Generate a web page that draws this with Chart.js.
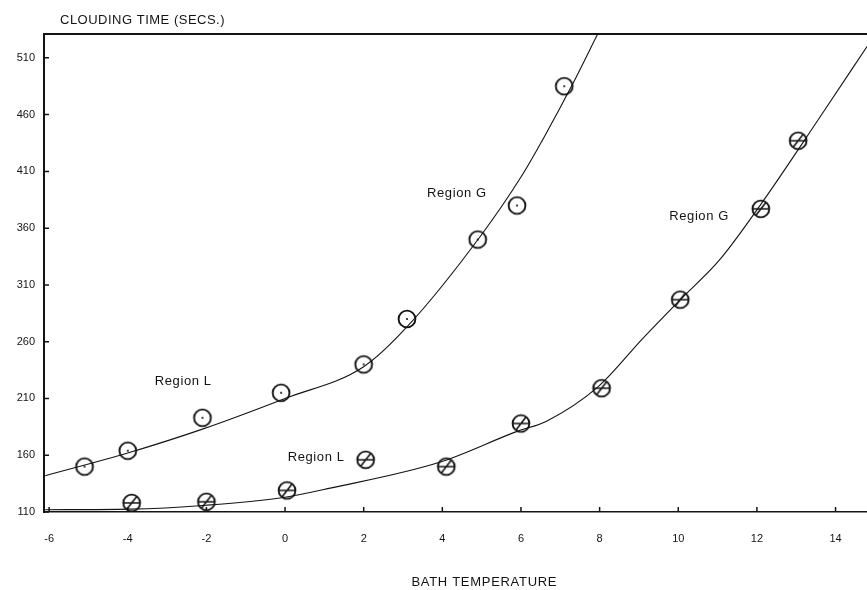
<!DOCTYPE html>
<html>
<head>
<meta charset="utf-8">
<script src="https://cdn.jsdelivr.net/npm/chart.js@4.4.1/dist/chart.umd.min.js"></script>
<style>
  html, body { margin: 0; padding: 0; background: #fff; }
  #wrap { width: 867px; height: 590px; }
</style>
</head>
<body>
<div id="wrap"><canvas id="chart"></canvas></div>
<script>
// measured points, plain circles with a centre dot
const dotTemp = [-5.1, -4.0, -2.1, -0.1, 2.0, 3.1, 4.9, 5.9, 7.1];
const dotTime = [150, 164, 193, 215, 240, 280, 350, 380, 485];

// measured points, crossed circles
const crossTemp = [-3.9, -2.0, 0.05, 2.05, 4.1, 6.0, 8.05, 10.05, 12.1, 13.05];
const crossTime = [118, 119, 129, 156, 150, 188, 219, 297, 377, 437];

// hand drawn curves
const curveATemp = [-6.1, -4.0, -2.1, 0.0, 2.0, 3.1, 4.95, 6.0, 6.65, 7.3, 7.95];
const curveATime = [142, 162, 183, 210, 238, 273, 352, 405, 444, 486, 531];
const curveBTemp = [-6.1, -3.95, -2.0, 0.0, 1.15, 3.95, 5.9, 6.65, 7.95, 9.1, 10.05, 11.05, 12.1, 13.55, 14.8];
const curveBTime = [112, 112.5, 116, 123, 131, 154, 181, 190, 220, 263, 297, 332, 381, 455, 520];

const xTicks = [-6, -4, -2, 0, 2, 4, 6, 8, 10, 12, 14];
const yTicks = [110, 160, 210, 260, 310, 360, 410, 460, 510];

const regionLabels = [
    { text: 'Region G', x: 4.37, y: 391 },
    { text: 'Region L', x: -2.59, y: 225 },
    { text: 'Region G', x: 10.53, y: 370 },
    { text: 'Region L', x: 0.79, y: 158.5 }
];

const INK = '#141414';
const FONT = '"Liberation Sans", Arial, sans-serif';

const toPoints = (xs, ys) => xs.map((x, i) => ({ x: x, y: ys[i] }));

// marker images
function makeMarker(kind) {
    const c = document.createElement('canvas');
    c.width = 22; c.height = 22;
    const g = c.getContext('2d');
    g.strokeStyle = INK;
    g.fillStyle = INK;
    g.lineWidth = 1.9;
    g.beginPath();
    g.arc(11, 11, 8.4, 0, Math.PI * 2);
    g.stroke();
    if (kind === 'dot') {
        g.beginPath();
        g.arc(11, 11, 1.1, 0, Math.PI * 2);
        g.fill();
    } else {
        g.lineWidth = 1.6;
        g.beginPath();
        g.moveTo(3, 11); g.lineTo(19, 11);
        g.moveTo(6, 17.5); g.lineTo(16, 4.5);
        g.stroke();
    }
    return c;
}
const dotMarker = makeMarker('dot');
const crossMarker = makeMarker('cross');

const paperPlugin = {
    id: 'paper',
    afterDraw(chart) {
        const ctx = chart.ctx;
        const area = chart.chartArea;
        const xs = chart.scales.x;
        const ys = chart.scales.y;
        ctx.save();
        ctx.strokeStyle = INK;

        // top frame line
        ctx.lineWidth = 2;
        ctx.beginPath();
        ctx.moveTo(area.left, area.top);
        ctx.lineTo(area.right, area.top);
        ctx.stroke();

        // inward tick marks
        ctx.lineWidth = 1.5;
        ctx.beginPath();
        xs.ticks.forEach(t => {
            const px = xs.getPixelForValue(t.value);
            ctx.moveTo(px, area.bottom);
            ctx.lineTo(px, area.bottom - 5);
        });
        ys.ticks.forEach(t => {
            const py = ys.getPixelForValue(t.value);
            ctx.moveTo(area.left, py);
            ctx.lineTo(area.left + 5, py);
        });
        ctx.stroke();

        ctx.fillStyle = INK;
        ctx.textBaseline = 'middle';

        // region labels
        ctx.font = '13px ' + FONT;
        ctx.textAlign = 'center';
        ctx.letterSpacing = '0.6px';
        regionLabels.forEach(l => {
            ctx.fillText(l.text, xs.getPixelForValue(l.x), ys.getPixelForValue(l.y));
        });

        // axis titles
        ctx.font = '13px ' + FONT;
        ctx.letterSpacing = '0.5px';
        ctx.textAlign = 'left';
        ctx.fillText('CLOUDING TIME (SECS.)', area.left + 16, area.top - 14);
        ctx.letterSpacing = '0.7px';
        ctx.textAlign = 'center';
        ctx.fillText('BATH TEMPERATURE', area.left + area.width * 0.535, 582);
        ctx.restore();
    }
};

const ctx = document.getElementById('chart').getContext('2d');
new Chart(ctx, {
    type: 'scatter',
    data: {
        datasets: [
            {
                label: 'curve A',
                data: toPoints(curveATemp, curveATime),
                showLine: true,
                borderColor: INK,
                borderWidth: 1.1,
                pointRadius: 0,
                cubicInterpolationMode: 'monotone'
            },
            {
                label: 'curve B',
                data: toPoints(curveBTemp, curveBTime),
                showLine: true,
                borderColor: INK,
                borderWidth: 1.1,
                pointRadius: 0,
                cubicInterpolationMode: 'monotone'
            },
            {
                label: 'dot circles',
                data: toPoints(dotTemp, dotTime),
                pointStyle: dotMarker,
                pointRadius: 9
            },
            {
                label: 'crossed circles',
                data: toPoints(crossTemp, crossTime),
                pointStyle: crossMarker,
                pointRadius: 9
            }
        ]
    },
    options: {
        responsive: true,
        maintainAspectRatio: false,
        animation: false,
        layout: { autoPadding: false, padding: { top: 34, right: 0, left: 0, bottom: 0 } },
        plugins: {
            legend: { display: false },
            tooltip: { enabled: false }
        },
        scales: {
            x: {
                type: 'linear',
                min: -6.13,
                max: 14.8,
                afterBuildTicks: (scale) => { scale.ticks = xTicks.map(v => ({ value: v })); },
                afterFit: (scale) => { scale.height = 78; },
                grid: { drawOnChartArea: false, drawTicks: false },
                border: { display: true, color: INK, width: 1.6 },
                ticks: {
                    padding: 20,
                    color: INK,
                    font: { family: FONT, size: 11 },
                    maxRotation: 0,
                    callback: (v) => String(v)
                }
            },
            y: {
                type: 'linear',
                min: 110,
                max: 531,
                afterBuildTicks: (scale) => { scale.ticks = yTicks.map(v => ({ value: v })); },
                afterFit: (scale) => { scale.width = 44; },
                grid: { drawOnChartArea: false, drawTicks: false },
                border: { display: true, color: INK, width: 2 },
                ticks: {
                    padding: 9,
                    color: INK,
                    font: { family: FONT, size: 11 },
                    callback: (v) => String(v)
                }
            }
        }
    },
    plugins: [paperPlugin]
});
</script>
</body>
</html>
